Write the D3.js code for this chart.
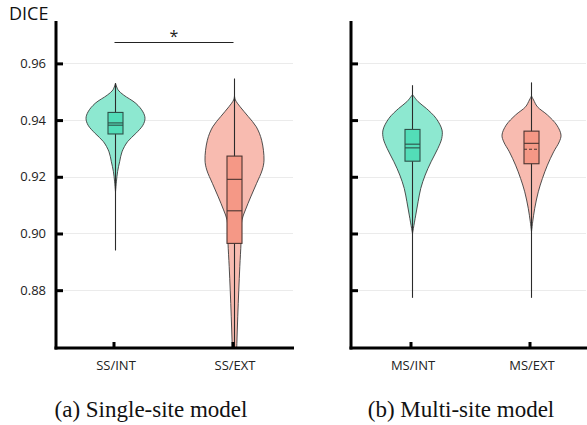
<!DOCTYPE html>
<html>
<head>
<meta charset="utf-8">
<script src="https://cdn.jsdelivr.net/npm/d3@7"></script>
<style>
body { margin: 0; background: #fff; }
</style>
</head>
<body>
<script>
var leftCats = ["SS/INT", "SS/EXT"];
var rightCats = ["MS/INT", "MS/EXT"];
var yTicks = [0.88, 0.90, 0.92, 0.94, 0.96];
var captions = ["(a) Single-site model", "(b) Multi-site model"];

// violin outlines: DICE value and relative width
var ssIntVals = [0.953, 0.9506, 0.9488, 0.9459, 0.9429, 0.9406, 0.9382, 0.9353, 0.9324, 0.9288, 0.9253, 0.9218, 0.9182, 0.9147];
var ssIntDens = [0, 0.09, 0.28, 0.69, 0.93, 1.0, 0.93, 0.69, 0.41, 0.22, 0.14, 0.07, 0.03, 0];
var ssExtVals = [0.9485, 0.9471, 0.9447, 0.9412, 0.9376, 0.9329, 0.9259, 0.9224, 0.9177, 0.9129, 0.9083, 0.9047, 0.900, 0.8966, 0.8883, 0.880, 0.8706, 0.8612, 0.85];
var ssExtDens = [0, 0.03, 0.19, 0.47, 0.74, 0.92, 1.0, 0.94, 0.75, 0.55, 0.37, 0.25, 0.225, 0.22, 0.18, 0.145, 0.11, 0.08, 0.05];
var msIntVals = [0.949, 0.9465, 0.9441, 0.9406, 0.9365, 0.9335, 0.930, 0.9253, 0.9206, 0.9159, 0.9112, 0.9065, 0.9018, 0.900];
var msIntDens = [0, 0.19, 0.47, 0.8, 1.0, 0.99, 0.86, 0.63, 0.43, 0.28, 0.19, 0.11, 0.03, 0];
var msExtVals = [0.9485, 0.9471, 0.9447, 0.9418, 0.9382, 0.9347, 0.9323, 0.9288, 0.9241, 0.9194, 0.9147, 0.9089, 0.9041, 0.9006];
var msExtDens = [0, 0.07, 0.2, 0.54, 0.86, 1.0, 0.94, 0.75, 0.54, 0.37, 0.23, 0.11, 0.04, 0];

// box stats: whisker low, q1, median, mean, q3, whisker high
var ssIntBox = [0.894, 0.9351, 0.939, 0.9382, 0.9427, 0.953];
var ssExtBox = [0.85, 0.8965, 0.9191, 0.908, 0.9273, 0.9547];
var msIntBox = [0.8773, 0.9255, 0.9315, 0.9302, 0.9367, 0.9523];
var msExtBox = [0.8773, 0.9246, 0.9318, 0.9297, 0.9361, 0.9533];

var teal = { violin: "#8de8d0", box: "#53ddb8", line: "#2e4f47" };
var salmon = { violin: "#f8bbb0", box: "#f59886", line: "#4a3430" };

var W = 587, H = 425;
var yTop = 22, yBottom = 348;

var svg = d3.select("body").append("svg")
    .attr("width", W)
    .attr("height", H);

var y = d3.scaleLinear().domain([0.8596, 0.9746]).range([yBottom, yTop]);
var w = d3.scaleLinear().domain([0, 1]).range([0, 29.5]);

function toPts(vals, dens) {
    return vals.map(function(v, i) { return { v: v, d: dens[i] }; });
}

var panels = [
    { x0: 56, x1: 294, range: [56, 294], cats: leftCats, labels: true, capX: 151,
      violins: [toPts(ssIntVals, ssIntDens), toPts(ssExtVals, ssExtDens)],
      boxes: [ssIntBox, ssExtBox], dash: [null, null] },
    { x0: 351, x1: 587, range: [353, 591], cats: rightCats, labels: false, capX: 461,
      violins: [toPts(msIntVals, msIntDens), toPts(msExtVals, msExtDens)],
      boxes: [msIntBox, msExtBox], dash: [null, "3,2"] }
];
var colors = [teal, salmon];

panels.forEach(function(p, pi) {
    var g = svg.append("g");
    var x = d3.scalePoint().domain(p.cats).range(p.range).padding(0.5);

    g.append("clipPath").attr("id", "clip" + pi)
        .append("rect")
        .attr("x", p.x0).attr("y", yTop)
        .attr("width", p.x1 - p.x0).attr("height", yBottom - yTop);

    // gridlines
    g.selectAll(".grid").data(yTicks).enter().append("line")
        .attr("x1", p.x0).attr("x2", p.x1 - 1)
        .attr("y1", function(d) { return Math.round(y(d)) + 0.5; })
        .attr("y2", function(d) { return Math.round(y(d)) + 0.5; })
        .attr("stroke", "#ebebeb").attr("stroke-width", 1);

    var plot = g.append("g").attr("clip-path", "url(#clip" + pi + ")");

    p.cats.forEach(function(c, i) {
        var cx = x(c);
        var col = colors[i];
        var area = d3.area()
            .y(function(d) { return y(d.v); })
            .x0(function(d) { return cx - w(d.d); })
            .x1(function(d) { return cx + w(d.d); })
            .curve(d3.curveCatmullRom);
        plot.append("path")
            .attr("d", area(p.violins[i]))
            .attr("fill", col.violin)
            .attr("stroke", "#3c3c3c")
            .attr("stroke-width", 0.9);

        var b = p.boxes[i];
        plot.append("line")
            .attr("x1", cx).attr("x2", cx)
            .attr("y1", y(b[0])).attr("y2", y(b[5]))
            .attr("stroke", "#2b2b2b").attr("stroke-width", 1.1);
        plot.append("rect")
            .attr("x", cx - 7.5).attr("width", 15)
            .attr("y", y(b[4])).attr("height", y(b[1]) - y(b[4]))
            .attr("fill", col.box)
            .attr("stroke", col.line).attr("stroke-width", 1.1);
        plot.append("line")
            .attr("x1", cx - 7.5).attr("x2", cx + 7.5)
            .attr("y1", y(b[2])).attr("y2", y(b[2]))
            .attr("stroke", col.line).attr("stroke-width", 1.1);
        plot.append("line")
            .attr("x1", cx - 7.5).attr("x2", cx + 7.5)
            .attr("y1", y(b[3])).attr("y2", y(b[3]))
            .attr("stroke", col.line).attr("stroke-width", 1.1)
            .attr("stroke-dasharray", p.dash[i]);
    });

    // y axis, ticks point inward
    var yAxis = d3.axisLeft(y).tickValues(yTicks)
        .tickSize(-7).tickSizeOuter(0).tickPadding(10)
        .tickFormat(p.labels ? d3.format(".2f") : "");
    var ya = g.append("g").attr("transform", "translate(" + p.x0 + ",0)").call(yAxis);
    ya.select(".domain").remove();
    ya.selectAll(".tick line").attr("stroke", "#000").attr("stroke-width", 3);
    ya.selectAll("text").attr("font-family", "Open Sans").attr("font-size", 13).attr("fill", "#222");
    g.append("line")
        .attr("x1", p.x0).attr("x2", p.x0)
        .attr("y1", yTop - 1).attr("y2", yBottom + 1.5)
        .attr("stroke", "#000").attr("stroke-width", 3);

    // x axis
    var xAxis = d3.axisBottom(x).tickSize(-6).tickSizeOuter(0).tickPadding(13);
    var xa = g.append("g").attr("transform", "translate(-2," + yBottom + ")").call(xAxis);
    xa.select(".domain").remove();
    xa.selectAll(".tick line").attr("stroke", "#000").attr("stroke-width", 3);
    xa.selectAll("text").attr("font-family", "Open Sans").attr("font-size", 13).attr("fill", "#222")
        .attr("transform", "translate(2,0)");
    g.append("line")
        .attr("x1", p.x0 - 1.5).attr("x2", p.x1)
        .attr("y1", yBottom).attr("y2", yBottom)
        .attr("stroke", "#000").attr("stroke-width", 3);

    svg.append("text")
        .attr("x", p.capX)
        .attr("y", 417)
        .attr("text-anchor", "middle")
        .attr("font-family", "Liberation Serif")
        .attr("font-size", 23)
        .attr("fill", "#111")
        .text(captions[pi]);

    if (pi === 0) {
        var xl = x(leftCats[0]) - 1, xr = x(leftCats[1]) - 1;
        g.append("line")
            .attr("x1", xl).attr("x2", xr)
            .attr("y1", 42.5).attr("y2", 42.5)
            .attr("stroke", "#222").attr("stroke-width", 1.1);
        g.append("text")
            .attr("x", (xl + xr) / 2).attr("y", 42)
            .attr("text-anchor", "middle")
            .attr("font-family", "Open Sans").attr("font-size", 16)
            .attr("fill", "#222")
            .text("*");
    }
});

svg.append("text")
    .attr("x", 9).attr("y", 20)
    .attr("font-family", "Open Sans")
    .attr("font-size", 18)
    .attr("fill", "#111")
    .text("DICE");
</script>
</body>
</html>
